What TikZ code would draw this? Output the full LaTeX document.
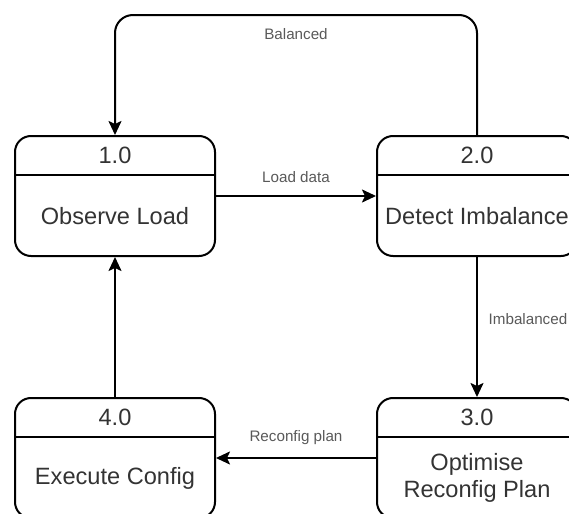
\documentclass[tikz,border=0pt]{standalone}
\usepackage{fontspec}
\setmainfont{Liberation Sans}
\usetikzlibrary{arrows.meta,positioning,calc}

\begin{document}
\begin{tikzpicture}[
  node distance=70pt and 80pt,
  proc/.style={draw, line width=1pt, rounded corners=8pt, minimum width=100pt,
               minimum height=60pt, inner sep=0pt},
  num/.style={font=\fontsize{11.8}{14}\selectfont, text=black!80, inner sep=0pt},
  txt/.style={font=\fontsize{11.8}{13.5}\selectfont, text=black!80, align=center,
              inner sep=0pt},
  divider/.style={line width=1pt},
  arr/.style={-{Stealth[length=7pt, width=6.5pt, inset=1.5pt]}, line width=1pt},
  lbl/.style={font=\fontsize{7.6}{9}\selectfont, text=black!65}
]
  \useasboundingbox (0,0) rectangle (284.5pt,-257pt);

  % Processes
  \node[proc] (p1) at (57.5pt,-98pt) {};
  \node[proc, right=of p1] (p2) {};
  \node[proc, below=of p2] (p3) {};
  \node[proc, below=of p1] (p4) {};

  % Headers and dividers
  \node[num] (n1) at ([yshift=-10pt]p1.north) {1.0};
  \node[num] (n2) at ([yshift=-10pt]p2.north) {2.0};
  \node[num] (n3) at ([yshift=-10pt]p3.north) {3.0};
  \node[num] (n4) at ([yshift=-10pt]p4.north) {4.0};
  \draw[divider] ([yshift=-20pt]p1.north west) -- ([yshift=-20pt]p1.north east);
  \draw[divider] ([yshift=-20pt]p2.north west) -- ([yshift=-20pt]p2.north east);
  \draw[divider] ([yshift=-20pt]p3.north west) -- ([yshift=-20pt]p3.north east);
  \draw[divider] ([yshift=-20pt]p4.north west) -- ([yshift=-20pt]p4.north east);

  % Process names
  \node[txt] (t1) at ([yshift=-10pt]p1.center) {Observe Load};
  \node[txt] (t2) at ([yshift=-10pt]p2.center) {Detect Imbalance};
  \node[txt] (t3) at ([yshift=-10pt]p3.center) {Optimise\\Reconfig Plan};
  \node[txt] (t4) at ([yshift=-10pt]p4.center) {Execute Config};

  % Flows
  \coordinate[above=60pt of p1.north] (top);
  \draw[arr] (p1) -- node[lbl, above=3pt] (lload) {Load data} (p2);
  \draw[arr] (p2) -- node[lbl, right=2pt, pos=0.44] (limb) {Imbalanced} (p3);
  \draw[arr] (p3) -- node[lbl, above=3pt] (lplan) {Reconfig plan} (p4);
  \draw[arr] (p4) -- (p1);
  \draw[arr, rounded corners=9pt] (p2.north) |- node[lbl, pos=0.75, below=3pt] (lbal) {Balanced} (top) -- (p1.north);
\end{tikzpicture}
\end{document}
